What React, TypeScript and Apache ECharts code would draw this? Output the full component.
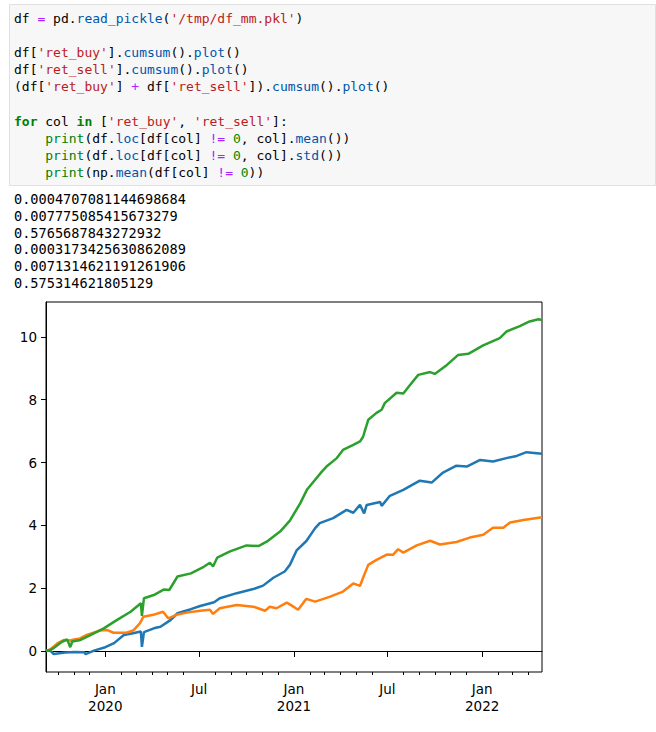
import React, { useEffect, useRef } from 'react';
import * as echarts from 'echarts';

// ---- data ----
const retBuy: [string, number][] = [
  ['2019-09-08', 0.0], ['2019-09-16', 0.02], ['2019-09-23', -0.1], ['2019-10-15', -0.05],
  ['2019-11-03', -0.03], ['2019-11-21', -0.04], ['2019-11-24', -0.1], ['2019-12-10', 0.01],
  ['2020-01-01', 0.12], ['2020-01-18', 0.25], ['2020-02-06', 0.51], ['2020-02-26', 0.57],
  ['2020-03-10', 0.62], ['2020-03-12', 0.13], ['2020-03-16', 0.6], ['2020-04-04', 0.72],
  ['2020-04-17', 0.77], ['2020-05-07', 0.99], ['2020-05-20', 1.2], ['2020-06-15', 1.33],
  ['2020-07-03', 1.43], ['2020-07-30', 1.55], ['2020-08-10', 1.68], ['2020-09-12', 1.84],
  ['2020-10-14', 1.97], ['2020-11-02', 2.08], ['2020-11-22', 2.33], ['2020-12-14', 2.53],
  ['2020-12-24', 2.74], ['2021-01-06', 3.2], ['2021-01-25', 3.5], ['2021-02-11', 3.91],
  ['2021-02-20', 4.07], ['2021-03-18', 4.23], ['2021-04-13', 4.49], ['2021-04-26', 4.4],
  ['2021-05-09', 4.65], ['2021-05-17', 4.38], ['2021-05-22', 4.65], ['2021-06-17', 4.74],
  ['2021-06-20', 4.62], ['2021-07-06', 4.94], ['2021-08-01', 5.13], ['2021-09-02', 5.42],
  ['2021-09-25', 5.36], ['2021-10-17', 5.68], ['2021-11-12', 5.9], ['2021-12-02', 5.87],
  ['2021-12-28', 6.08], ['2022-01-22', 6.03], ['2022-02-17', 6.14], ['2022-03-09', 6.21],
  ['2022-03-28', 6.33], ['2022-04-27', 6.28],
];

const retSell: [string, number][] = [
  ['2019-09-08', 0.0], ['2019-09-16', 0.05], ['2019-09-30', 0.24], ['2019-10-13', 0.35],
  ['2019-10-25', 0.33], ['2019-10-30', 0.36], ['2019-11-13', 0.4], ['2019-11-26', 0.51],
  ['2019-12-22', 0.65], ['2020-01-04', 0.67], ['2020-01-17', 0.58], ['2020-02-11', 0.58],
  ['2020-02-24', 0.65], ['2020-03-08', 0.88], ['2020-03-15', 1.09], ['2020-04-03', 1.15],
  ['2020-04-22', 1.25], ['2020-05-02', 1.04], ['2020-05-18', 1.15], ['2020-06-07', 1.22],
  ['2020-07-03', 1.28], ['2020-07-22', 1.31], ['2020-07-28', 1.18], ['2020-08-10', 1.36],
  ['2020-09-12', 1.46], ['2020-10-14', 1.41], ['2020-11-06', 1.28], ['2020-11-15', 1.41],
  ['2020-11-28', 1.36], ['2020-12-18', 1.54], ['2020-12-27', 1.45], ['2021-01-09', 1.31],
  ['2021-01-25', 1.66], ['2021-02-11', 1.57], ['2021-02-20', 1.62], ['2021-03-12', 1.73],
  ['2021-04-06', 1.89], ['2021-04-26', 2.15], ['2021-05-09', 2.07], ['2021-05-15', 2.33],
  ['2021-05-25', 2.74], ['2021-06-10', 2.9], ['2021-06-30', 3.07], ['2021-07-12', 3.06],
  ['2021-07-22', 3.24], ['2021-08-01', 3.13], ['2021-08-27', 3.36], ['2021-09-22', 3.51],
  ['2021-10-11', 3.39], ['2021-11-12', 3.47], ['2021-12-08', 3.61], ['2022-01-03', 3.7],
  ['2022-01-22', 3.92], ['2022-02-11', 3.92], ['2022-02-24', 4.09], ['2022-03-22', 4.17],
  ['2022-04-27', 4.26],
];

const retBoth: [string, number][] = [
  ['2019-09-08', 0.0], ['2019-09-16', 0.03], ['2019-09-23', 0.09], ['2019-10-07', 0.27],
  ['2019-10-19', 0.37], ['2019-10-25', 0.12], ['2019-10-29', 0.3], ['2019-11-14', 0.35],
  ['2019-12-04', 0.51], ['2019-12-29', 0.72], ['2020-01-24', 0.99], ['2020-02-19', 1.25],
  ['2020-03-10', 1.52], ['2020-03-12', 1.12], ['2020-03-16', 1.68], ['2020-04-04', 1.78],
  ['2020-04-24', 1.96], ['2020-05-04', 1.94], ['2020-05-10', 2.1], ['2020-05-20', 2.37],
  ['2020-06-15', 2.47], ['2020-07-10', 2.68], ['2020-07-22', 2.81], ['2020-07-28', 2.69],
  ['2020-08-05', 2.97], ['2020-08-30', 3.17], ['2020-10-01', 3.36], ['2020-10-24', 3.34],
  ['2020-11-09', 3.48], ['2020-12-05', 3.8], ['2020-12-24', 4.15], ['2021-01-13', 4.7],
  ['2021-01-26', 5.13], ['2021-02-11', 5.45], ['2021-02-24', 5.71], ['2021-03-05', 5.87],
  ['2021-03-25', 6.14], ['2021-04-06', 6.4], ['2021-04-26', 6.56], ['2021-05-09', 6.67],
  ['2021-05-15', 6.82], ['2021-05-19', 7.04], ['2021-05-25', 7.36], ['2021-06-10', 7.58],
  ['2021-06-20', 7.68], ['2021-06-26', 7.89], ['2021-07-19', 8.22], ['2021-08-01', 8.2],
  ['2021-08-14', 8.47], ['2021-08-30', 8.79], ['2021-09-22', 8.88], ['2021-10-01', 8.82],
  ['2021-10-24', 9.1], ['2021-11-15', 9.42], ['2021-12-05', 9.46], ['2022-01-03', 9.73],
  ['2022-02-04', 9.96], ['2022-02-17', 10.17], ['2022-03-15', 10.34], ['2022-04-03', 10.49],
  ['2022-04-20', 10.56], ['2022-04-27', 10.54],
];

const yTicks = [0, 2, 4, 6, 8, 10];
const xMajorDates = ['2020-01-01', '2020-07-01', '2021-01-01', '2021-07-01', '2022-01-01'];
const xMajorLabels = ['Jan\n2020', 'Jul', 'Jan\n2021', 'Jul', 'Jan\n2022'];
const xMinorDates = [
  '2019-10-01', '2019-11-01', '2019-12-01', '2020-02-01', '2020-03-01', '2020-04-01',
  '2020-05-01', '2020-06-01', '2020-08-01', '2020-09-01', '2020-10-01', '2020-11-01',
  '2020-12-01', '2021-02-01', '2021-03-01', '2021-04-01', '2021-05-01', '2021-06-01',
  '2021-08-01', '2021-09-01', '2021-10-01', '2021-11-01', '2021-12-01', '2022-02-01',
  '2022-03-01', '2022-04-01',
];
const xStart = '2019-09-08';
const xEnd = '2022-04-27';
const yMin = -0.67;
const yMax = 11.11;

const codeLines: [string, string][][] = [
  [['df', 'v'], [' ', ''], ['=', 'o'], [' ', ''], ['pd', 'v'], ['.', 'v'], ['read_pickle', 'p'], ['(', 'v'], ["'/tmp/df_mm.pkl'", 's'], [')', 'v']],
  [],
  [['df', 'v'], ['[', 'v'], ["'ret_buy'", 's'], [']', 'v'], ['.', 'v'], ['cumsum', 'p'], ['()', 'v'], ['.', 'v'], ['plot', 'p'], ['()', 'v']],
  [['df', 'v'], ['[', 'v'], ["'ret_sell'", 's'], [']', 'v'], ['.', 'v'], ['cumsum', 'p'], ['()', 'v'], ['.', 'v'], ['plot', 'p'], ['()', 'v']],
  [['(df', 'v'], ['[', 'v'], ["'ret_buy'", 's'], [']', 'v'], [' ', ''], ['+', 'o'], [' ', ''], ['df', 'v'], ['[', 'v'], ["'ret_sell'", 's'], [']).', 'v'], ['cumsum', 'p'], ['().', 'v'], ['plot', 'p'], ['()', 'v']],
  [],
  [['for', 'k'], [' ', ''], ['col', 'v'], [' ', ''], ['in', 'k'], [' ', ''], ['[', 'v'], ["'ret_buy'", 's'], [',', 'v'], [' ', ''], ["'ret_sell'", 's'], [']:', 'v']],
  [['    ', ''], ['print', 'b'], ['(df.', 'v'], ['loc', 'p'], ['[df[col]', 'v'], [' ', ''], ['!=', 'o'], [' ', ''], ['0', 'n'], [',', 'v'], [' ', ''], ['col].', 'v'], ['mean', 'p'], ['())', 'v']],
  [['    ', ''], ['print', 'b'], ['(df.', 'v'], ['loc', 'p'], ['[df[col]', 'v'], [' ', ''], ['!=', 'o'], [' ', ''], ['0', 'n'], [',', 'v'], [' ', ''], ['col].', 'v'], ['std', 'p'], ['())', 'v']],
  [['    ', ''], ['print', 'b'], ['(np.', 'v'], ['mean', 'p'], ['(df[col]', 'v'], [' ', ''], ['!=', 'o'], [' ', ''], ['0', 'n'], ['))', 'v']],
];

const outputLines = [
  '0.0004707081144698684',
  '0.007775085415673279',
  '0.5765687843272932',
  '0.0003173425630862089',
  '0.0071314621191261906',
  '0.575314621805129',
];

const tokenColors: Record<string, string> = {
  v: '#000000', o: '#aa22ff', s: '#ba2121', n: '#008800', k: '#008000', b: '#008000', p: '#0055aa',
};

function toTs(s: string): number {
  const [y, m, d] = s.split('-').map(Number);
  return new Date(y, m - 1, d).getTime();
}

export default function App() {
  const ref = useRef<HTMLDivElement>(null);
  useEffect(() => {
    if (!ref.current) return;
    const chart = echarts.init(ref.current, undefined, { renderer: 'svg' });
    const mono = '"DejaVu Sans Mono", monospace';
    const charW = 7.82;
    const codeX = 14;

    const graphics: any[] = [
      {
        type: 'rect', x: 9.5, y: 4.5, shape: { width: 646, height: 181 },
        style: { fill: '#f7f7f7', stroke: '#e0e0e0', lineWidth: 1 }, silent: true, z: 0,
      },
    ];
    codeLines.forEach((tokens, li) => {
      let col = 0;
      const y = 18.5 + li * 17.1;
      tokens.forEach(([txt, kind]) => {
        if (kind && txt.trim().length) {
          graphics.push({
            type: 'text', x: codeX + col * charW, y, z: 2,
            style: {
              text: txt,
              fill: tokenColors[kind], fontFamily: mono, fontSize: 13,
              fontWeight: kind === 'k' ? 'bold' : 'normal', verticalAlign: 'middle', align: 'left',
            },
          });
        }
        col += txt.length;
      });
    });
    outputLines.forEach((t, i) => {
      graphics.push({
        type: 'text', x: codeX, y: 199 + i * 16.8, z: 2,
        style: { text: t, fill: '#000', fontFamily: mono, fontSize: 13.6, verticalAlign: 'middle', align: 'left' },
      });
    });

    const labelMap: Record<number, string> = {};
    xMajorDates.forEach((d, i) => { labelMap[toTs(d)] = xMajorLabels[i]; });

    const mk = (arr: [string, number][]) => arr.map(([d, v]) => [toTs(d), v]);
    const tickFont = { fontFamily: '"DejaVu Sans", sans-serif', fontSize: 13.5, color: '#000' };

    chart.setOption({
      animation: false,
      backgroundColor: '#ffffff',
      grid: {
        left: 46, right: 114, top: 302, bottom: 60,
        show: true, borderColor: '#000', borderWidth: 1, backgroundColor: 'transparent',
      },
      xAxis: [
        {
          type: 'value', min: toTs(xStart), max: toTs(xEnd), position: 'bottom',
          axisLine: { show: true, lineStyle: { color: '#000', width: 1 } },
          axisTick: { show: true, length: 6, lineStyle: { color: '#000', width: 1 }, customValues: xMajorDates.map(toTs) },
          axisLabel: {
            ...tickFont, lineHeight: 17, margin: 8,
            customValues: xMajorDates.map(toTs),
            formatter: (v: number) => labelMap[v] ?? '',
          },
          splitLine: { show: false },
        },
        {
          type: 'value', min: toTs(xStart), max: toTs(xEnd), position: 'bottom',
          axisLine: { show: false },
          axisTick: { show: true, length: 3, lineStyle: { color: '#000', width: 1 }, customValues: xMinorDates.map(toTs) },
          axisLabel: { show: false },
          splitLine: { show: false },
        },
      ],
      yAxis: {
        type: 'value', min: yMin, max: yMax,
        axisLine: { show: true, lineStyle: { color: '#000', width: 1 } },
        axisTick: { show: true, length: 5, lineStyle: { color: '#000', width: 1 }, customValues: yTicks },
        axisLabel: { ...tickFont, margin: 9, customValues: yTicks, formatter: (v: number) => String(v) },
        splitLine: { show: false },
      },
      series: [
        { type: 'line', data: mk(retBuy), showSymbol: false, lineStyle: { color: '#1f77b4', width: 2.5 }, itemStyle: { color: '#1f77b4' }, silent: true },
        { type: 'line', data: mk(retSell), showSymbol: false, lineStyle: { color: '#ff7f0e', width: 2.5 }, itemStyle: { color: '#ff7f0e' }, silent: true },
        { type: 'line', data: mk(retBoth), showSymbol: false, lineStyle: { color: '#2ca02c', width: 2.5 }, itemStyle: { color: '#2ca02c' }, silent: true },
      ],
      graphic: graphics,
    });
    return () => chart.dispose();
  }, []);
  return (
    <div
      ref={ref}
      style={{ position: 'fixed', left: 0, top: 0, width: 656, height: 732, background: '#fff' }}
    />
  );
}
